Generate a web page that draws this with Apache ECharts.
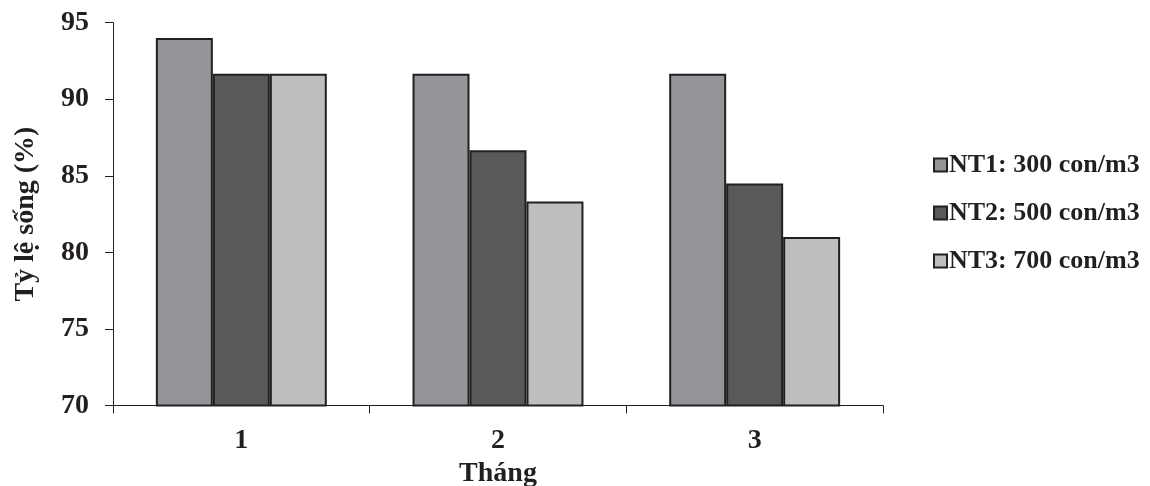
<!DOCTYPE html>
<html><head><meta charset="utf-8">
<script src="https://cdn.jsdelivr.net/npm/echarts@6/dist/echarts.min.js"></script>
<style>html,body{margin:0;padding:0;background:#fff}#c{width:1150px;height:486px}</style>
</head><body><div id="c"></div>
<script>
const categories = ['1', '2', '3'];
const seriesNames = ['NT1: 300 con/m3', 'NT2: 500 con/m3', 'NT3: 700 con/m3'];
const nt1 = [94, 91.67, 91.67];
const nt2 = [91.67, 86.67, 84.5];
const nt3 = [91.67, 83.33, 81];
const yTicks = [70, 75, 80, 85, 90, 95];

const colors = ['#939598', '#58595b', '#bcbec0'];
const font = 'Liberation Serif';
const chart = echarts.init(document.getElementById('c'));
const values = [nt1, nt2, nt3];
chart.setOption({
  animation: false,
  grid: {left: 113, right: 267, top: 22.7, bottom: 80.5, containLabel: false, outerBoundsMode: 'none'},
  legend: {
    orient: 'vertical', left: 928, top: 147, itemGap: 22,
    itemWidth: 13, itemHeight: 13, icon: 'rect',
    textStyle: {fontFamily: font, fontWeight: 'bold', fontSize: 26, color: '#231f20', padding: [0,0,0,-3]},
    data: seriesNames
  },
  xAxis: {
    type: 'category', data: categories,
    name: 'Tháng', nameLocation: 'middle', nameGap: 49,
    nameTextStyle: {fontFamily: font, fontWeight: 'bold', fontSize: 28, color: '#231f20'},
    axisLine: {lineStyle: {color: '#231f20', width: 1}},
    axisTick: {show: true, length: 8, alignWithLabel: false, lineStyle: {color: '#231f20'}},
    axisLabel: {fontFamily: font, fontWeight: 'bold', fontSize: 28, color: '#231f20', margin: 21}
  },
  yAxis: {
    type: 'value', min: yTicks[0], max: yTicks[yTicks.length-1], interval: 5,
    name: 'Tỷ lệ sống (%)', nameLocation: 'middle', nameGap: 73, nameRotate: 90,
    nameTextStyle: {fontFamily: font, fontWeight: 'bold', fontSize: 28, color: '#231f20'},
    axisLine: {show: true, lineStyle: {color: '#231f20', width: 1}},
    axisTick: {show: true, length: 8, lineStyle: {color: '#231f20'}},
    splitLine: {show: false},
    axisLabel: {fontFamily: font, fontWeight: 'bold', fontSize: 28, color: '#231f20', margin: 24}
  },
  series: seriesNames.map((n, i) => ({
    name: n, type: 'bar', data: values[i],
    barGap: '0%', barCategoryGap: '33.4%',
    itemStyle: {color: colors[i], borderColor: '#231f20', borderWidth: 2}
  }))
});
</script></body></html>
